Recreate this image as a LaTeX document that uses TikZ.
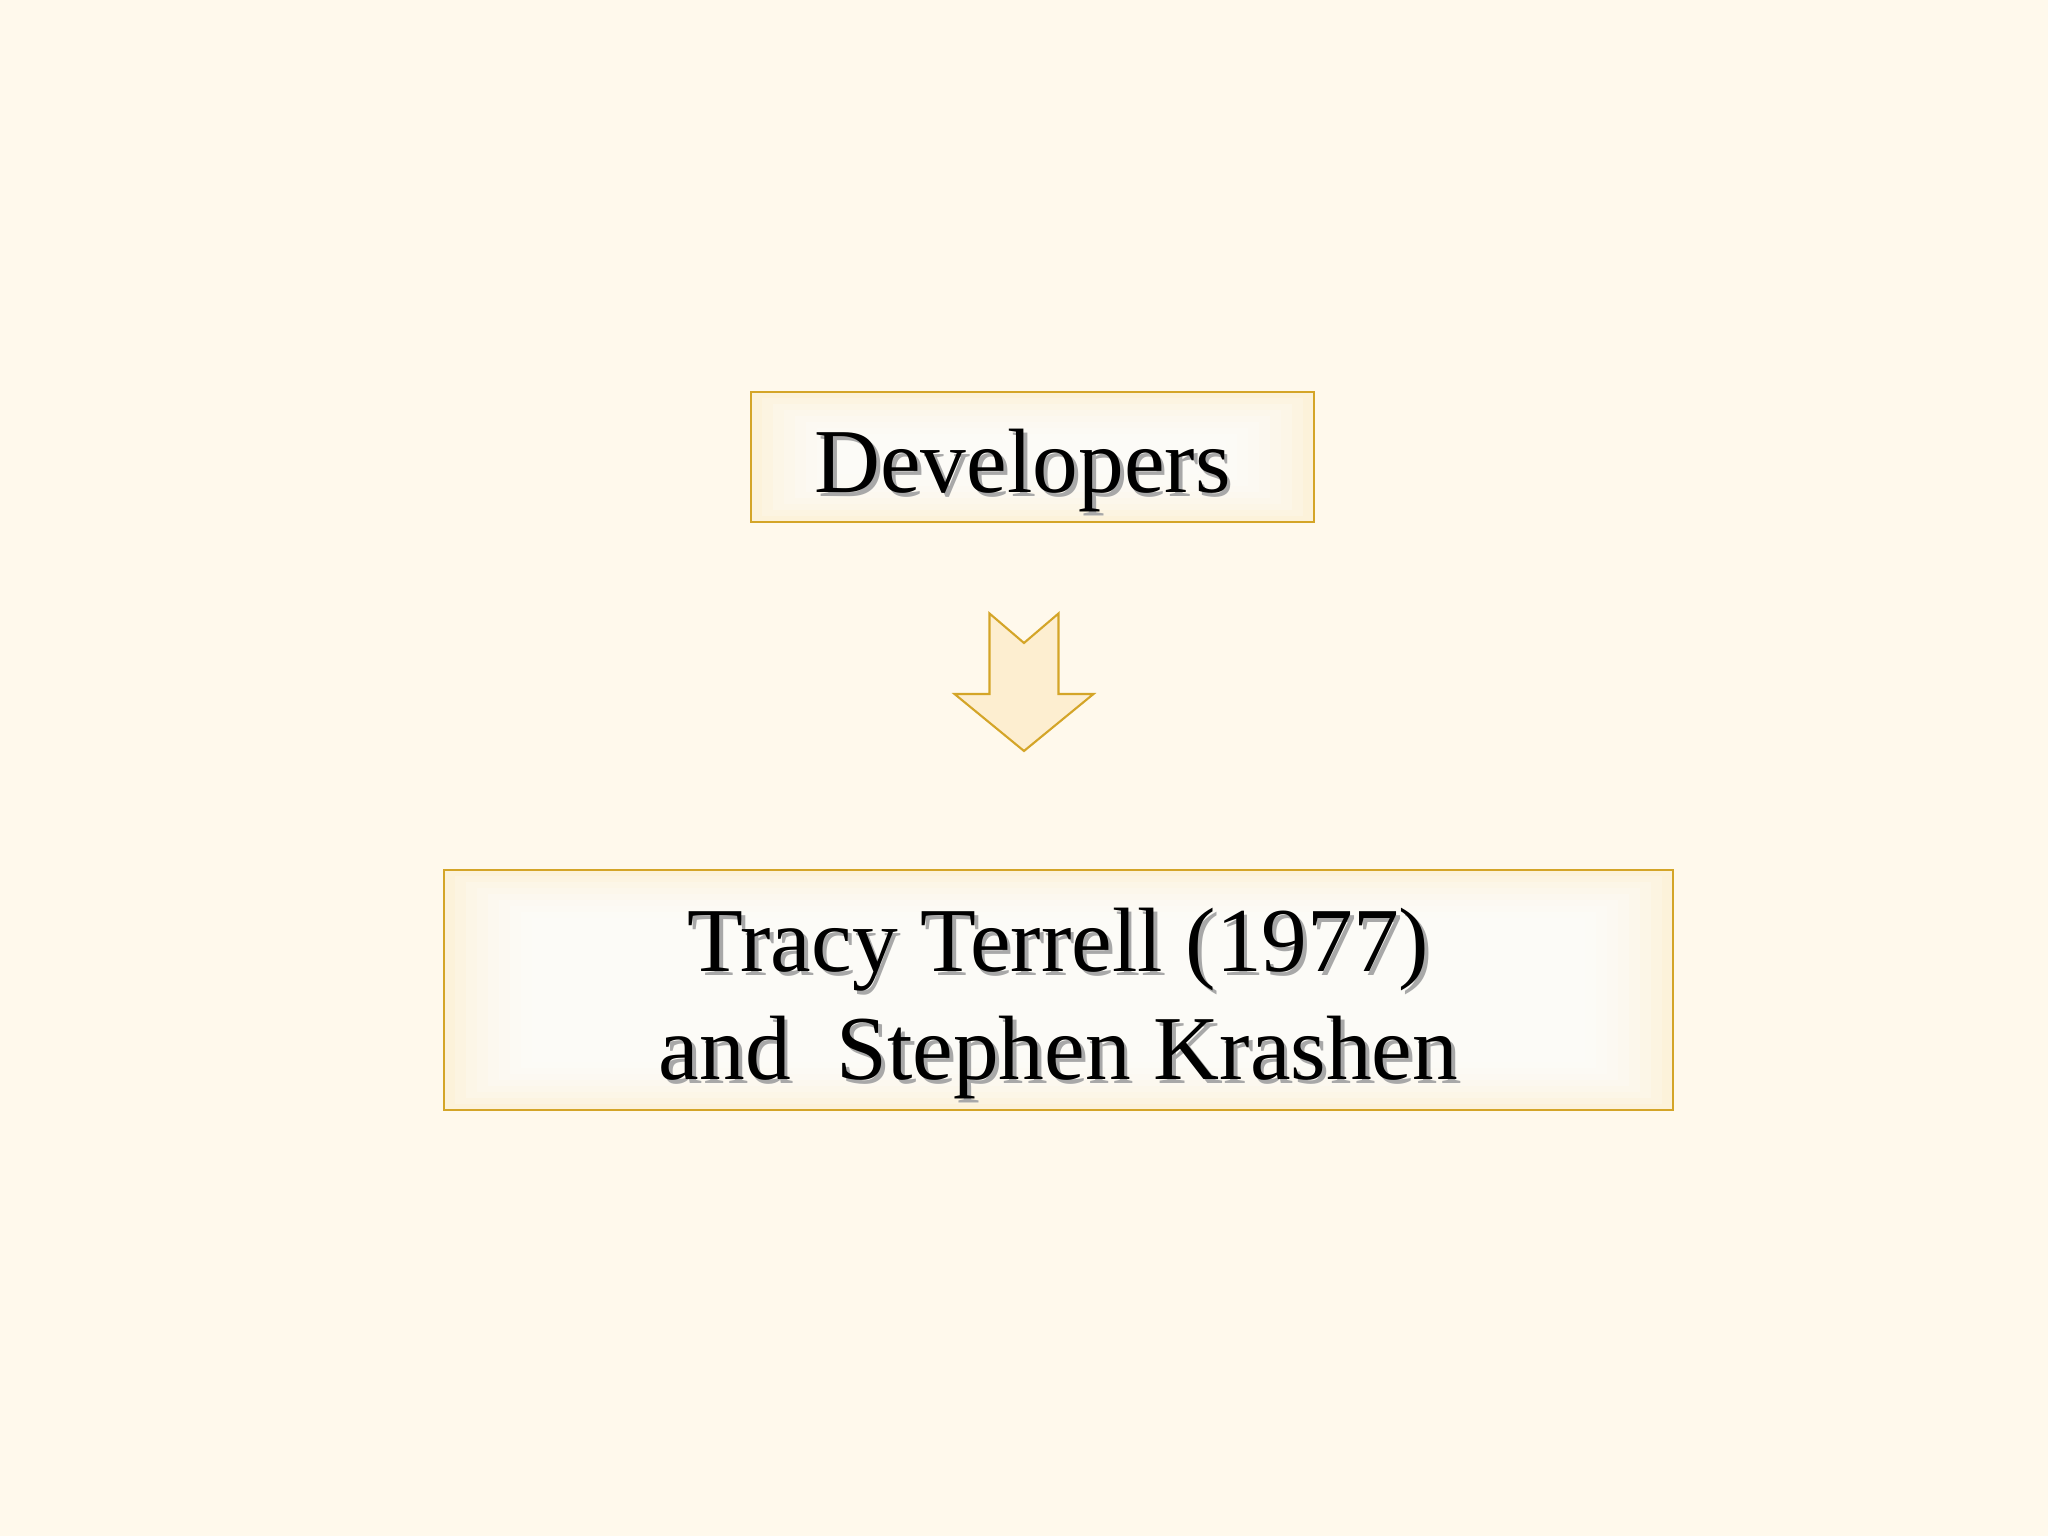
\documentclass[tikz,border=0pt]{standalone}
\usepackage{fontspec}
\setmainfont{Liberation Serif}
\usetikzlibrary{positioning}

\definecolor{bgcream}{RGB}{255,249,236}
\definecolor{boxgold}{RGB}{212,165,40}
\definecolor{boxcream}{RGB}{252,242,218}
\definecolor{arrowfill}{RGB}{253,238,208}
\definecolor{shadowgray}{RGB}{168,168,168}

\newcommand{\shtext}[1]{\rlap{\hspace{1.1pt}\raisebox{-1.1pt}{\color{shadowgray}#1}}#1}
\newcommand{\tallstrut}{\rule{0pt}{26.7pt}}

\tikzset{
  titlebox/.style={draw=boxgold, line width=0.7pt, fill=boxcream, inner sep=0pt,
    align=center, font=\fontsize{26}{30.7}\selectfont,
    path picture={
      \foreach \k in {1,...,8}
        \fill[white, opacity=0.2]
          ([xshift=\k*1.1mm, yshift=\k*0.6mm]path picture bounding box.south west) rectangle
          ([xshift=-\k*1.1mm, yshift=-\k*0.6mm]path picture bounding box.north east);
    }},
  downarrow/.style={draw=boxgold, line width=0.6pt, fill=arrowfill, line join=miter}
}

\begin{document}
\begin{tikzpicture}
  \fill[bgcream] (0,0) rectangle (20.48,15.36);
  \useasboundingbox (0,0) rectangle (20.48,15.36);

  \node[titlebox, minimum width=5.63cm, minimum height=1.30cm] (dev) at (10.325,10.79)
    {\tallstrut\shtext{Developers}\hspace{0.2cm}};

  \node[titlebox, minimum width=12.29cm, minimum height=2.40cm] (authors) at (10.585,5.46)
    {\tallstrut\shtext{Tracy Terrell (1977)}\\ \shtext{and\ \ Stephen Krashen}};

  \coordinate (arrowtip) at (10.24,7.85);
  \draw[downarrow] (arrowtip) -- ++(-0.695,0.57) -- ++(0.35,0) -- ++(0,0.805)
    -- ++(0.345,-0.295) -- ++(0.345,0.295) -- ++(0,-0.805) -- ++(0.35,0) -- cycle;
\end{tikzpicture}
\end{document}
